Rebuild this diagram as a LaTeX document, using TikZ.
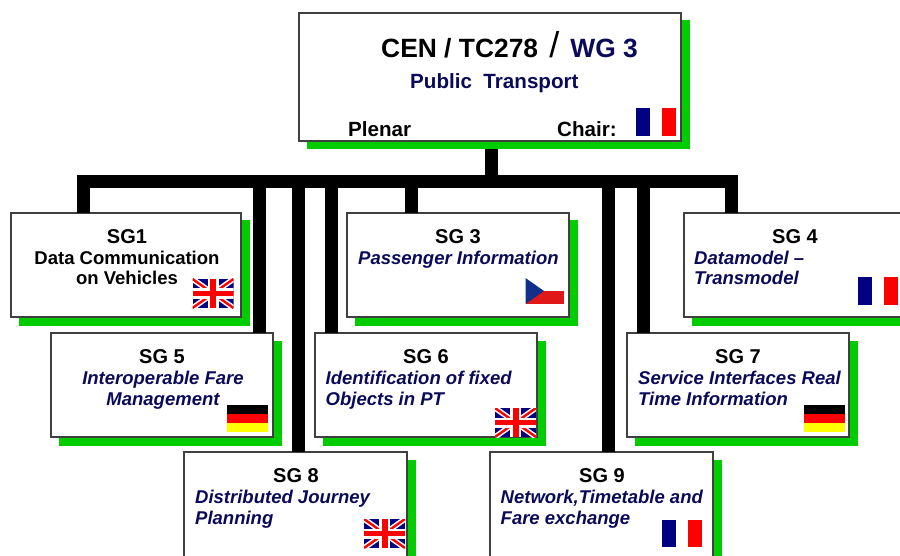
\documentclass[tikz,border=0pt]{standalone}
\usepackage{fontspec}
\setmainfont{Liberation Sans}
\usetikzlibrary{shadows}
\definecolor{shgreen}{HTML}{00CC00}
\definecolor{navytxt}{HTML}{0A0A5A}
\definecolor{flagblue}{HTML}{000080}
\definecolor{flagred}{HTML}{FF0000}
\definecolor{flagyel}{HTML}{FFFF00}
\definecolor{czblue}{HTML}{10308C}
\definecolor{czred}{HTML}{E01818}
\definecolor{edgegrey}{HTML}{404040}
\newcommand{\flagfr}[2]{%
  \fill[flagblue] (#1,#2) rectangle ++(14,27.5);
  \fill[flagred] (#1+26,#2) rectangle ++(14,27.5);}
\newcommand{\flagde}[2]{%
  \fill[black] (#1,#2) rectangle ++(41,9);
  \fill[flagred] (#1,#2+9) rectangle ++(41,9);
  \fill[flagyel] (#1,#2+18) rectangle ++(41,9);}
\newcommand{\flagcz}[2]{%
  \fill[czred] (#1,#2+13) rectangle ++(38.5,13);
  \fill[czblue] (#1,#2) -- (#1+18.5,#2+13) -- (#1,#2+26) -- cycle;}
\newcommand{\flaguk}[2]{%
  \begin{scope}
    \clip (#1,#2) rectangle ++(41,29);
    \fill[flagblue] (#1,#2) rectangle ++(41,29);
    \draw[white,line width=5.5] (#1,#2) -- ++(41,29);
    \draw[white,line width=5.5] (#1,#2+29) -- ++(41,-29);
    \draw[flagred,line width=2.4] (#1,#2) -- ++(41,29);
    \draw[flagred,line width=2.4] (#1,#2+29) -- ++(41,-29);
    \fill[white] (#1+15,#2) rectangle ++(11,29);
    \fill[white] (#1,#2+9.5) rectangle ++(41,10);
    \fill[flagred] (#1+17.5,#2) rectangle ++(6,29);
    \fill[flagred] (#1,#2+12) rectangle ++(41,5);
  \end{scope}}
\tikzset{
  x=1pt,y=-1pt,
  boxnode/.style={draw=edgegrey,line width=1.5pt,fill=white,inner sep=0pt,outer sep=0pt,anchor=north west,
    general shadow={fill=shgreen,draw=shgreen,line width=1pt,shadow xshift=8pt,shadow yshift=-8pt}},
  bar/.style={line width=13pt,draw=black},
  title/.style={anchor=base,inner sep=0pt,yshift=-0.6pt,font=\fontsize{20}{20}\bfseries\selectfont,text=black},
  toptext/.style={anchor=base west,inner sep=0pt,yshift=-0.6pt,font=\fontsize{20.6}{20}\bfseries\selectfont},
  blackline/.style={anchor=base,inner sep=0pt,yshift=-0.6pt,font=\fontsize{18.5}{20}\bfseries\selectfont,text=black},
  navyline/.style={anchor=base west,inner sep=0pt,yshift=-0.6pt,font=\fontsize{18.5}{20}\bfseries\itshape\selectfont,text=navytxt},
}
\begin{document}
\begin{tikzpicture}
\useasboundingbox (0,0) rectangle (900,556);
\clip (0,0) rectangle (900,556);
\fill[white] (0,0) rectangle (900,556);
% boxes
\node[boxnode,minimum width=382pt,minimum height=128pt] (top) at (299,13) {};
\node[boxnode,minimum width=230pt,minimum height=104pt] (sg1) at (11,213) {};
\node[boxnode,minimum width=222pt,minimum height=104pt] (sg3) at (347,213) {};
\node[boxnode,minimum width=240pt,minimum height=104pt] (sg4) at (684,213) {};
\node[boxnode,minimum width=222pt,minimum height=104pt] (sg5) at (51,333) {};
\node[boxnode,minimum width=222pt,minimum height=104pt] (sg6) at (315,333) {};
\node[boxnode,minimum width=222pt,minimum height=104pt] (sg7) at (627,333) {};
\node[boxnode,minimum width=223pt,minimum height=120pt] (sg8) at (184,452) {};
\node[boxnode,minimum width=223pt,minimum height=120pt] (sg9) at (490,452) {};
% bus
\coordinate (busL) at (77,181.5);
\coordinate (busR) at (738,181.5);
\coordinate (busT) at (491.5,181.5);
\coordinate (b1) at (83.5,175);
\coordinate (b5) at (259.5,181.5);
\coordinate (b8) at (298.5,181.5);
\coordinate (b6) at (331.5,181.5);
\coordinate (b3) at (411.5,181.5);
\coordinate (b9) at (608.5,181.5);
\coordinate (b7) at (643.5,181.5);
\coordinate (b4) at (731.5,175);
\draw[bar] (busL) -- (busR);
\draw[bar] (busT) -- (491.5,149);
\draw[bar] (b1) -- (b1 |- sg1.north);
\draw[bar] (b5) -- (b5 |- sg5.north);
\draw[bar] (b8) -- (b8 |- sg8.north);
\draw[bar] (b6) -- (b6 |- sg6.north);
\draw[bar] (b3) -- (b3 |- sg3.north);
\draw[bar] (b9) -- (b9 |- sg9.north);
\draw[bar] (b7) -- (b7 |- sg7.north);
\draw[bar] (b4) -- (b4 |- sg4.north);
% top text
\node[anchor=base west,inner sep=0pt,font=\fontsize{26.4}{26}\bfseries\selectfont] (t1) at (381,57.4)
  {CEN / TC278\hspace{0.42em}{\fontsize{36}{36}\mdseries\selectfont/}\hspace{0.42em}\textcolor{navytxt}{WG 3}};
\node[toptext,text=navytxt] (t2) at (410,88) {Public\hspace{0.28em} Transport};
\node[toptext] (t3) at (348,136) {Plenar};
\node[toptext] (t4) at (557,136) {Chair:};
% SG1
\node[title] (s1a) at (127,243) {SG1};
\node[blackline] (s1b) at (127,264) {Data Communication};
\node[blackline] (s1c) at (127,284.4) {on Vehicles};
% SG3
\node[title] (s3a) at (458,243) {SG 3};
\node[navyline] (s3b) at (358,264) {Passenger Information};
% SG4
\node[title] (s4a) at (795,243) {SG 4};
\node[navyline] (s4b) at (694,264) {Datamodel --};
\node[navyline] (s4c) at (694,284.4) {Transmodel};
% SG5
\node[title] (s5a) at (162,363) {SG 5};
\node[navyline,anchor=base] (s5b) at (163,384) {Interoperable Fare};
\node[navyline,anchor=base] (s5c) at (163,404.4) {Management};
% SG6
\node[title] (s6a) at (426,363) {SG 6};
\node[navyline] (s6b) at (325.5,384) {Identification of fixed};
\node[navyline] (s6c) at (325.5,404.4) {Objects in PT};
% SG7
\node[title] (s7a) at (738,363) {SG 7};
\node[navyline] (s7b) at (638,384) {Service Interfaces Real};
\node[navyline] (s7c) at (638,404.4) {Time Information};
% SG8
\node[title] (s8a) at (296,482) {SG 8};
\node[navyline] (s8b) at (195,503) {Distributed Journey};
\node[navyline] (s8c) at (195,523.4) {Planning};
% SG9
\node[title] (s9a) at (602,482) {SG 9};
\node[navyline] (s9b) at (500.5,503) {Network,Timetable and};
\node[navyline] (s9c) at (500.5,523.4) {Fare exchange};
% flags
\flagfr{636}{108.5}
\flagfr{858}{277}
\flagfr{662}{519.5}
\flaguk{192.5}{279}
\flaguk{495}{408}
\flaguk{364}{519}
\flagde{227}{405}
\flagde{803.5}{405}
\flagcz{525.5}{278}
\end{tikzpicture}
\end{document}
